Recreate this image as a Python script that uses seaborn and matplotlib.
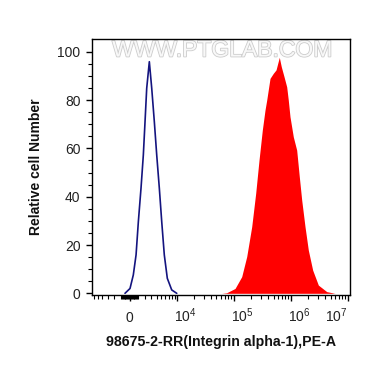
import numpy as np
import pandas as pd
import seaborn as sns
import matplotlib
matplotlib.use("Agg")
import matplotlib.pyplot as plt
from matplotlib import patheffects
from matplotlib.transforms import ScaledTranslation

# histogram outlines (fluorescence, relative count)
blue_x = [-550, 60, 460, 800, 1090, 1440, 1760, 2000, 2250, 2660, 3060, 3530,
          3990, 4540, 5090, 5730, 6560, 7950, 9840]
blue_y = [0, 2, 7.6, 15.9, 29.6, 43.5, 57.3, 71, 84.9, 95.9, 84.9, 71,
          57.3, 43.5, 29.6, 15.9, 6.2, 1.4, 0]

red_x = [61750, 75600, 105600, 138300, 169200, 207000, 243000, 278000, 317500,
         354000, 379000, 433000, 495000, 552000, 591000, 630000, 683000, 762000,
         849000, 905000, 970000, 1108000, 1270000, 1411000, 1555000, 1776000,
         2030000, 2420000, 3040000, 4260000, 5950000]
red_y = [0, 0.25, 2, 6.9, 15.2, 27.6, 41.4, 55.2, 67.6, 75.9, 80, 89, 91.1,
         92.5, 95.2, 97.7, 93.8, 89.7, 85.5, 80, 73.1, 64.8, 59.3, 48.3, 38.6,
         27.6, 17.9, 9.6, 3.4, 0.7, 0]

x_ticks = [0, 1e4, 1e5, 1e6, 1e7]
x_labels = ["0", r"$10^4$", r"$10^5$", r"$10^6$", r"$10^7$"]
y_ticks = [0, 20, 40, 60, 80, 100]

sns.set_style("ticks")
plt.rcParams["font.family"] = ["Liberation Sans", "DejaVu Sans"]
plt.rcParams["mathtext.fontset"] = "custom"
plt.rcParams["mathtext.rm"] = "Liberation Sans"
plt.rcParams["mathtext.it"] = "Liberation Sans"


# biexponential-like display (arcsinh)
def fwd(x):
    return 24.8 * np.arcsinh(np.asarray(x) / 3000.0)


def inv(y):
    return 3000.0 * np.sinh(np.asarray(y) / 24.8)


fig = plt.figure(figsize=(3.7, 3.67), dpi=100)
ax = fig.add_axes([92 / 370, 72 / 367, 257.5 / 370, 256 / 367])

blue = pd.DataFrame({"x": blue_x, "y": blue_y})
red = pd.DataFrame({"x": red_x, "y": red_y})

ax.fill_between(red["x"], 0, red["y"], color="#ff0000", linewidth=0, zorder=2)
sns.lineplot(data=blue, x="x", y="y", ax=ax, color="#14147f", linewidth=1.2,
             sort=False, zorder=3)

ax.set_xscale("function", functions=(fwd, inv))
ax.set_xlim(-6480, 1.068e7)
ax.set_ylim(-0.7, 105.3)

# minor ticks
minor = []
for k in [2, 3]:
    for m in range(1, 10):
        minor += [m * 10 ** k, -m * 10 ** k]
for k in [4, 5, 6]:
    for m in range(2, 10):
        minor.append(m * 10 ** k)
minor = [v for v in minor if -6480 < v < 1.068e7]
ax.set_xticks(x_ticks)
ax.set_xticklabels(x_labels)
ax.set_xticks(minor, minor=True)
ax.set_yticks(y_ticks)
ax.set_yticks(np.arange(0, 105, 5), minor=True)

for s in ax.spines.values():
    s.set_color("black")
    s.set_linewidth(1.0)

ax.tick_params(axis="both", which="major", length=4.3, width=1.0, color="black",
               labelsize=10, labelcolor="#222222")
ax.tick_params(axis="both", which="minor", length=2.8, width=0.8, color="black")
ax.tick_params(axis="x", which="major", pad=15.4)
ax.tick_params(axis="y", which="major", pad=4)

# flow-style decade labels start at the tick, last one ends at the frame
shift = ScaledTranslation(-0.03, 0, fig.dpi_scale_trans)
for i, lab in enumerate(ax.get_xticklabels()):
    lab.set_va("baseline")
    if 0 < i < 4:
        lab.set_ha("left")
        lab.set_transform(lab.get_transform() + shift)
    elif i == 4:
        lab.set_ha("right")

ax.set_xlabel("98675-2-RR(Integrin alpha-1),PE-A", fontsize=10.2,
              fontweight="bold", color="#111111")
ax.set_ylabel("Relative cell Number", fontsize=10, fontweight="bold",
              color="#111111")
ax.xaxis.set_label_coords(0.5, -0.155)
ax.yaxis.set_label_coords(-0.19, 0.5)

# watermark
ax.text(0.505, 0.957, "WWW.PTGLAB.COM", transform=ax.transAxes, ha="center",
        va="center", fontsize=16.5, color="#f8f8f8", zorder=1,
        path_effects=[patheffects.withStroke(linewidth=1.2, foreground="#cccccc")])

fig.savefig("out.png", dpi=100)
